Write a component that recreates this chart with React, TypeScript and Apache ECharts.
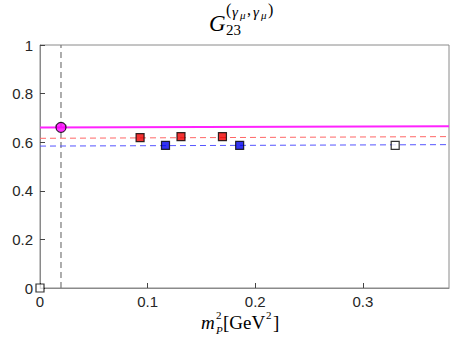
import React, { useEffect, useRef } from "react";
import * as echarts from "echarts";

const xTicks = [0, 0.1, 0.2, 0.3];
const physX = 0.0195;
const physPoint = [0.0195, 0.661];
const redPoints = [[0.093, 0.619], [0.131, 0.623], [0.1695, 0.623]];
const bluePoints = [[0.1166, 0.587], [0.1855, 0.587]];
const openPoints = [[0.33, 0.587], [0, 0]];
const magentaFit = [[0, 0.661], [0.38, 0.666]];
const redFit = [[0, 0.616], [0.38, 0.623]];
const blueFit = [[0, 0.584], [0.38, 0.59]];

export default function App() {
  const ref = useRef<HTMLDivElement>(null);
  useEffect(() => {
    const chart = echarts.init(ref.current!, null, { renderer: "svg" });
    const serif = "Liberation Serif";
    chart.setOption({
      animation: false,
      grid: { left: 40, right: 14, top: 45, bottom: 60, show: true, borderColor: "#8a8a8a", borderWidth: 1 },
      xAxis: {
        type: "value", min: 0, max: 0.38, interval: 0.1,
        axisLine: { lineStyle: { color: "#8a8a8a" } },
        axisTick: { inside: true, length: 5, lineStyle: { color: "#444" } },
        axisLabel: { color: "#262626", fontSize: 15, fontFamily: "Liberation Sans", margin: 6, showMaxLabel: false },
        splitLine: { show: false },
      },
      yAxis: {
        type: "value", min: 0, max: 1, interval: 0.2,
        axisLine: { show: true, lineStyle: { color: "#8a8a8a" } },
        axisTick: { show: true, inside: true, length: 5, lineStyle: { color: "#444" } },
        axisLabel: { color: "#262626", fontSize: 15, fontFamily: "Liberation Sans", margin: 7 },
        splitLine: { show: false },
      },
      series: [
        { type: "line", data: [[physX, 0], [physX, 1]], symbol: "none", lineStyle: { color: "#777", type: [6, 4], width: 1.2 }, z: 1 },
        { type: "line", data: magentaFit, symbol: "none", lineStyle: { color: "#ff22ff", width: 2 }, z: 2 },
        { type: "line", data: redFit, symbol: "none", lineStyle: { color: "#ff6666", type: [6, 4], width: 1 }, z: 2 },
        { type: "line", data: blueFit, symbol: "none", lineStyle: { color: "#5555ff", type: [6, 4], width: 1 }, z: 2 },
        { type: "scatter", data: redPoints, symbol: "rect", symbolSize: 8, itemStyle: { color: "#ee0000", borderColor: "#000", borderWidth: 1.2 }, z: 5 },
        { type: "scatter", data: bluePoints, symbol: "rect", symbolSize: 8, itemStyle: { color: "#0000ee", borderColor: "#000", borderWidth: 1.2 }, z: 5 },
        { type: "scatter", data: openPoints, symbol: "rect", symbolSize: 8, itemStyle: { color: "#fff", borderColor: "#000", borderWidth: 1.2 }, z: 5 },
        { type: "scatter", data: [physPoint], symbol: "circle", symbolSize: 10, itemStyle: { color: "#ff00ff", borderColor: "#000", borderWidth: 1.2 }, z: 6 },
      ],
      graphic: [
        { type: "text", x: 209, y: 12, style: { text: "G", font: `italic 23px ${serif}`, fill: "#000" } },
        { type: "text", x: 226, y: 22, style: { text: "23", font: `15px ${serif}`, fill: "#000" } },
        { type: "text", x: 226, y: 1, style: { text: "(", font: `16px ${serif}`, fill: "#000" } },
        { type: "text", x: 232, y: 4, style: { text: "γ", font: `italic 15px ${serif}`, fill: "#000" } },
        { type: "text", x: 240, y: 9, style: { text: "μ", font: `italic 11px ${serif}`, fill: "#000" } },
        { type: "text", x: 247, y: 1, style: { text: ",", font: `16px ${serif}`, fill: "#000" } },
        { type: "text", x: 253, y: 4, style: { text: "γ", font: `italic 15px ${serif}`, fill: "#000" } },
        { type: "text", x: 261, y: 9, style: { text: "μ", font: `italic 11px ${serif}`, fill: "#000" } },
        { type: "text", x: 268, y: 1, style: { text: ")", font: `16px ${serif}`, fill: "#000" } },
        { type: "text", x: 201, y: 313, style: { text: "m", font: `italic 19px ${serif}`, fill: "#000" } },
        { type: "text", x: 216, y: 324, style: { text: "P", font: `italic 11px ${serif}`, fill: "#000" } },
        { type: "text", x: 216, y: 309, style: { text: "2", font: `11px ${serif}`, fill: "#000" } },
        { type: "text", x: 223, y: 313, style: { text: "[GeV", font: `19px ${serif}`, fill: "#000" } },
        { type: "text", x: 266, y: 309, style: { text: "2", font: `11px ${serif}`, fill: "#000" } },
        { type: "text", x: 273, y: 313, style: { text: "]", font: `19px ${serif}`, fill: "#000" } },
      ],
    });
    return () => chart.dispose();
  }, []);
  return <div ref={ref} style={{ width: 463, height: 348, position: "absolute", left: 0, top: 0 }} />;
}
